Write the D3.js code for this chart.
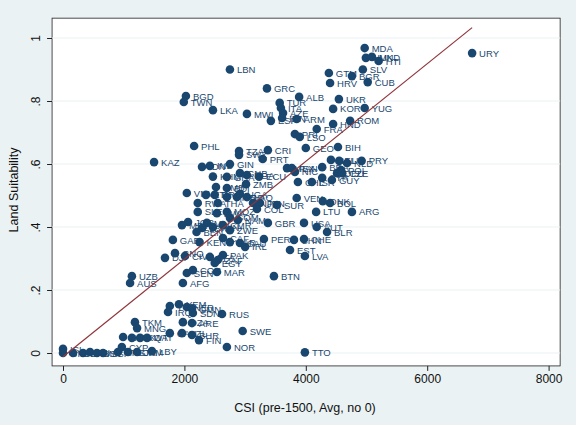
<!DOCTYPE html>
<html>
<head>
<meta charset="utf-8">
<script src="https://cdn.jsdelivr.net/npm/d3@7"></script>
<style>
  body { margin: 0; background: #eaf2f3; }
  text { font-family: "Liberation Sans", Arial, sans-serif; }
</style>
</head>
<body>
<div id="chart"></div>
<script>
// Country codes, CSI (pre-1500) and land suitability
const codes = ["LBN","BGD","TWN","LKA","GRC","MWI","ALB","TUR","ITA","AZE","ESP","IRN","ARM","PRI","LSO","FRA","GEO","PHL","KAZ","CRI","TZA","SWZ","PRT","GIN","GTM","HRV","KOR","HND","MDA","HUN","MKD","HTI","SLV","BGR","CUB","UKR","YUG","ROM","BIH","URY","PRY","BEL","LUX","NLD","POL","DEU","CZE","BRA","MEX","PAN","NIC","CHL","ISR","SYR","GUY","VEN","DNK","BOL","LTU","ARG","SUR","USA","AUT","BLR","PER","CHN","CHE","EST","LVA","BTN","IDN","IND","KHM","GHA","GNB","NGA","ECU","ZMB","GMB","BDI","VNM","ETH","ERI","MMR","TGO","UGA","LAO","RWA","THA","NPL","JPN","COL","SLE","BWA","MOZ","SOM","NAM","JOR","MRT","MLI","TUN","CMR","ZWE","GBR","BEN","LBR","GAB","KEN","CAF","ZAR","SAU","IRL","GNQ","CIV","DJI","BFA","PAK","ZAF","EGY","COG","SEN","MAR","UZB","AUS","AFG","TCD","YEM","IRQ","NER","OMN","SDN","DZA","ARE","RUS","TKM","MNG","KGZ","TJK","KWT","QAT","CAN","NZL","BHR","FIN","SWE","NOR","TTO","ISL","GRL","BHS","BRB","FJI","MLT","SGP","HKG","CYP","DOM","JAM","LBY"];
const csi = [2750,2025,1990,2470,3360,3030,3890,3570,3590,3625,3425,3610,3850,3820,3900,4180,4000,2160,1500,3375,2900,2900,3290,2750,4380,4400,4450,4450,4970,4990,5090,5200,4940,4760,5020,4545,4970,4730,4530,6740,4920,4414,4550,4680,4580,4515,4600,4270,3690,3770,3820,3870,4100,4270,4430,3850,4280,4400,4170,4760,3525,3970,4180,4350,3310,3805,3970,3740,3985,3475,2290,2420,2470,2700,2915,3030,3230,3015,2520,2700,2040,2355,2500,2700,2865,2915,3030,2220,2550,3130,3245,3195,2220,2535,2700,2750,2880,2060,1960,2370,2470,2635,2750,3375,2200,2290,1810,2250,2635,2750,2915,3000,1845,2010,1680,2420,2635,2550,2500,2140,2040,2535,1135,1105,1975,1760,1910,1730,2040,2125,2140,1975,2125,2620,1185,1220,990,1135,1270,1385,1760,1960,2125,2240,2960,2700,3985,0,0,165,330,445,560,660,905,970,1070,1220,1465];
const suit = [.90,.816,.797,.771,.84,.759,.813,.794,.778,.762,.737,.746,.743,.695,.686,.711,.651,.657,.606,.644,.641,.629,.616,.60,.889,.857,.775,.727,.968,.937,.94,.927,.90,.879,.86,.806,.778,.737,.654,.952,.61,.613,.61,.603,.581,.571,.571,.59,.587,.587,.575,.543,.543,.556,.549,.492,.482,.476,.448,.448,.47,.413,.40,.384,.362,.359,.362,.327,.308,.244,.591,.594,.56,.559,.571,.565,.56,.536,.527,.524,.508,.502,.502,.495,.495,.505,.495,.476,.476,.476,.476,.457,.448,.444,.448,.429,.422,.416,.406,.413,.40,.406,.39,.413,.384,.397,.359,.352,.365,.352,.349,.337,.317,.308,.302,.305,.311,.295,.286,.263,.254,.257,.244,.222,.222,.149,.155,.13,.146,.14,.127,.098,.095,.124,.098,.079,.051,.048,.048,.048,.063,.063,.057,.041,.07,.019,.002,.013,0,0,0,.003,0,0,.003,.019,.003,.003,.006];
const xTicks = [0, 2000, 4000, 6000, 8000];
const yTicks = [0, .2, .4, .6, .8, 1];
const yTickLabels = ["0", ".2", ".4", ".6", ".8", "1"];
// fitted line endpoints (linear fit)
const fitX = [0, 6740];
const fitY = [-0.012, 1.033];

const W = 576, H = 425;
const navy = "#1a476f";

const svg = d3.select("#chart").append("svg")
    .attr("width", W).attr("height", H);

svg.append("rect").attr("width", W).attr("height", H).attr("fill", "#eaf2f3");

const x = d3.scaleLinear().domain([0, 8000]).range([63, 548.6]);
const y = d3.scaleLinear().domain([0, 1]).range([353, 38]);

// plot region
const x0 = x(-180), x1 = x(8190), y0 = y(-0.041), y1 = y(1.063);
svg.append("rect")
    .attr("x", x0).attr("y", y1)
    .attr("width", x1 - x0).attr("height", y0 - y1)
    .attr("fill", "white").attr("stroke", "#222").attr("stroke-width", 0.8);

// gridlines
svg.selectAll(".grid").data(yTicks).enter().append("line")
    .attr("x1", x0).attr("x2", x1)
    .attr("y1", d => y(d)).attr("y2", d => y(d))
    .attr("stroke", "#eaf2f3").attr("stroke-width", 1.2);

// axes
const xAxis = svg.append("g")
    .attr("transform", `translate(0,${y0})`)
    .call(d3.axisBottom(x).tickValues(xTicks).tickFormat(d3.format("d")).tickSize(5).tickPadding(4));
const yAxis = svg.append("g")
    .attr("transform", `translate(${x0},0)`)
    .call(d3.axisLeft(y).tickValues(yTicks).tickFormat((d, i) => yTickLabels[i]).tickSize(5));
[xAxis, yAxis].forEach(a => {
    a.selectAll("line").attr("stroke", "#222");
    a.selectAll("text").attr("font-size", 12).attr("fill", "#111");
    a.select(".domain").remove();
});
yAxis.selectAll(".tick text")
    .attr("text-anchor", "middle")
    .attr("x", 0).attr("y", 0).attr("dy", "0")
    .attr("transform", "translate(-12,0) rotate(-90)");

// axis titles
svg.append("text")
    .attr("x", 305).attr("y", 412)
    .attr("text-anchor", "middle").attr("font-size", 12.5).attr("fill", "#111")
    .text("CSI (pre-1500, Avg, no 0)");
svg.append("text")
    .attr("transform", "translate(18,190) rotate(-90)")
    .attr("text-anchor", "middle").attr("font-size", 12.5).attr("fill", "#111")
    .text("Land Suitability");

// points
const data = codes.map((c, i) => ({ name: c, csi: csi[i], suit: suit[i] }));

svg.selectAll(".pt").data(data).enter().append("circle")
    .attr("cx", d => x(d.csi)).attr("cy", d => y(d.suit))
    .attr("r", 4.3).attr("fill", navy);

svg.selectAll(".lbl").data(data).enter().append("text")
    .attr("x", d => x(d.csi) + 7).attr("y", d => y(d.suit) + 3.6)
    .attr("font-size", 9.5).attr("fill", navy)
    .text(d => d.name);

// fitted line
svg.append("line")
    .attr("x1", x(fitX[0])).attr("y1", y(fitY[0]))
    .attr("x2", x(fitX[1])).attr("y2", y(fitY[1]))
    .attr("stroke", "#90353b").attr("stroke-width", 1.2);
</script>
</body>
</html>
